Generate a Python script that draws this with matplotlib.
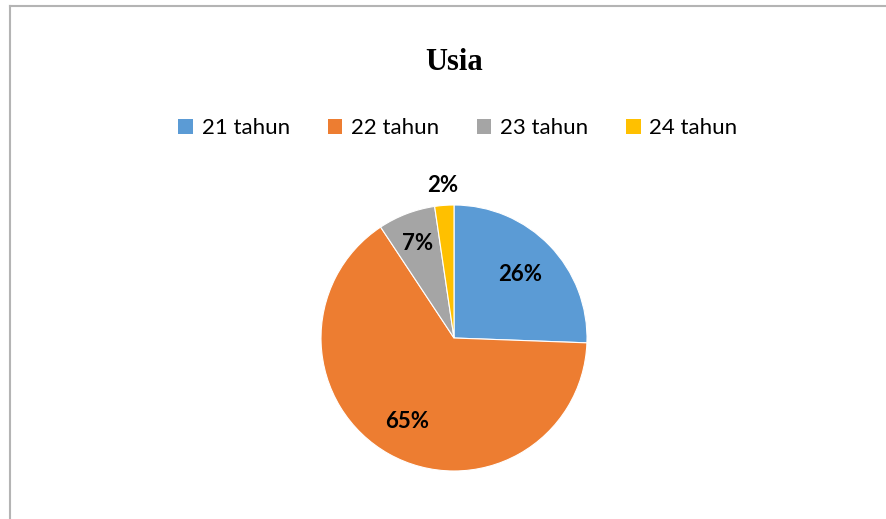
import matplotlib
matplotlib.use("Agg")
import matplotlib.pyplot as plt
from matplotlib.patches import Patch
from matplotlib.lines import Line2D
import numpy as np

# ----------------------------
# Data
# ----------------------------
categories = ["21 tahun", "22 tahun", "23 tahun", "24 tahun"]
counts = [11, 28, 3, 1]
colors = ["#5B9BD5", "#ED7D31", "#A5A5A5", "#FFC000"]
label_radius = [0.69, 0.72, 0.76, 1.15]

W, H = 886, 519
fig = plt.figure(figsize=(W / 100, H / 100), dpi=100)

# pie area: centre (454, 338), radius 133 px
cx, cy, r = 454, 338, 133
ax = fig.add_axes([(cx - r) / W, (H - cy - r) / H, 2 * r / W, 2 * r / H])
wedges, _ = ax.pie(counts, colors=colors, startangle=90, counterclock=False,
                   radius=1.0, wedgeprops={"edgecolor": "white", "linewidth": 0.8})
ax.set_xlim(-1, 1)
ax.set_ylim(-1, 1)
ax.set_aspect("equal")
ax.axis("off")

total = sum(counts)
for w, n, rd in zip(wedges, counts, label_radius):
    ang = np.deg2rad((w.theta1 + w.theta2) / 2)
    ax.text(rd * np.cos(ang), rd * np.sin(ang), f"{100 * n / total:.0f}%",
            ha="center", va="center", fontsize=16, fontweight="bold",
            family="Lato", color="black", clip_on=False)

# title
fig.text(454 / W, 1 - 63 / H, "Usia", ha="center", va="center",
         fontsize=22, fontweight="bold", family="Liberation Serif")

# legend
handles = [Patch(facecolor=c, edgecolor="none") for c in colors]
fig.legend(handles, categories, loc="center", bbox_to_anchor=(458 / W, 1 - 128 / H),
           ncol=4, frameon=False, prop={"family": "Lato", "size": 16},
           handlelength=0.65, handleheight=0.65, handletextpad=0.4,
           columnspacing=1.7)

# chart border (left and top only visible)
bc = "#B4B4B4"
fig.add_artist(Line2D([10 / W, 10 / W], [0, 1 - 6 / H], color=bc, linewidth=1.5,
                      transform=fig.transFigure))
fig.add_artist(Line2D([10 / W, 1], [1 - 6 / H, 1 - 6 / H], color=bc, linewidth=1.5,
                      transform=fig.transFigure))

fig.savefig("out.png", dpi=100, facecolor="white")
